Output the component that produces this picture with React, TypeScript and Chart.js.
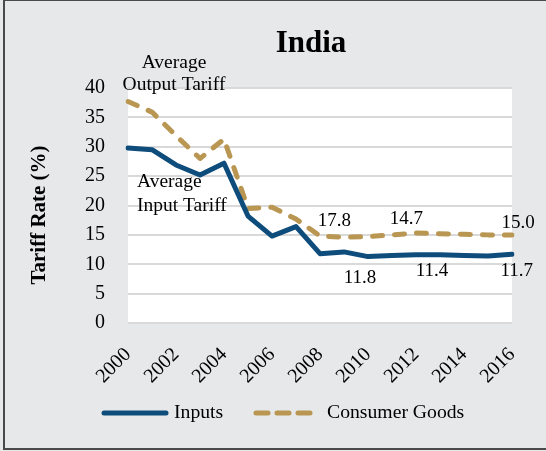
import React, { useEffect, useRef } from "react";
import { Chart, registerables } from "chart.js";

Chart.register(...registerables);

const years = ["2000","2001","2002","2003","2004","2005","2006","2007","2008","2009","2010","2011","2012","2013","2014","2015","2016"];
const inputs = [29.8, 29.5, 26.9, 25.2, 27.2, 18.2, 14.8, 16.4, 11.8, 12.1, 11.3, 11.5, 11.6, 11.6, 11.5, 11.4, 11.7];
const consumerGoods = [37.7, 35.9, 31.9, 28.0, 31.3, 19.5, 19.7, 17.7, 14.8, 14.6, 14.7, 15.0, 15.3, 15.2, 15.1, 15.0, 15.0];
const yTicks = [0, 5, 10, 15, 20, 25, 30, 35, 40];

const seriesNames = ["Inputs", "Consumer Goods"];
const title = "India";
const yTitle = "Tariff Rate (%)";

// value labels: text, x position (year index, fractional), y value for placement
const valueLabelText = ["17.8", "14.7", "15.0", "11.8", "11.4", "11.7"];
const valueLabelX = [8.6, 11.6, 16.25, 9.67, 12.67, 16.2];
const valueLabelY = [17.4, 17.7, 17.0, 7.6, 8.8, 8.8];

const BLUE = "#0e4d7b";
const GOLD = "#b99651";
const BG = "#e7e8ea";
const SERIF = "'Liberation Serif', 'Times New Roman', serif";

const decorPlugin = {
  id: "decor",
  beforeDraw(chart: any) {
    const { ctx, chartArea, width, height } = chart;
    ctx.save();
    ctx.fillStyle = BG;
    ctx.fillRect(0, 0, width, height);
    ctx.strokeStyle = "#4a4a4a";
    ctx.lineWidth = 2;
    ctx.strokeRect(4, 0, width + 10, 449);
    ctx.fillStyle = "#ffffff";
    ctx.fillRect(chartArea.left, chartArea.top, chartArea.right - chartArea.left, chartArea.bottom - chartArea.top);
    ctx.restore();
  },
  afterDraw(chart: any) {
    const { ctx } = chart;
    const xs = chart.scales.x;
    const ys = chart.scales.y;
    ctx.save();
    ctx.fillStyle = "#000";

    // chart title
    ctx.font = `bold 31px ${SERIF}`;
    ctx.textAlign = "center";
    ctx.textBaseline = "middle";
    ctx.fillText(title, 311, 44);

    // y axis title
    ctx.save();
    ctx.translate(39.5, 215);
    ctx.rotate(-Math.PI / 2);
    ctx.font = `bold 21px ${SERIF}`;
    ctx.textAlign = "center";
    ctx.textBaseline = "middle";
    ctx.fillText(yTitle, 0, 0);
    ctx.restore();

    // annotations
    ctx.font = `19.5px ${SERIF}`;
    ctx.textBaseline = "middle";
    ctx.textAlign = "center";
    ctx.fillText("Average", 174, 63);
    ctx.fillText("Output Tariff", 174, 85);
    ctx.textAlign = "left";
    ctx.fillText("Average", 137, 182);
    ctx.fillText("Input Tariff", 137, 206);

    // value labels
    ctx.font = `19px ${SERIF}`;
    ctx.textAlign = "center";
    const step = xs.getPixelForValue(1) - xs.getPixelForValue(0);
    valueLabelText.forEach((t, i) => {
      const px = xs.getPixelForValue(0) + valueLabelX[i] * step;
      const py = ys.getPixelForValue(valueLabelY[i]);
      ctx.fillText(t, px, py);
    });

    // legend
    const ly = 413;
    const ds = chart.data.datasets;
    ctx.lineCap = "round";
    ctx.lineWidth = 5;
    ctx.strokeStyle = ds[0].borderColor;
    ctx.setLineDash([]);
    ctx.beginPath();
    ctx.moveTo(104, ly);
    ctx.lineTo(166, ly);
    ctx.stroke();
    ctx.strokeStyle = ds[1].borderColor;
    ctx.setLineDash([12, 9]);
    ctx.beginPath();
    ctx.moveTo(256, ly);
    ctx.lineTo(312, ly);
    ctx.stroke();
    ctx.setLineDash([]);
    ctx.font = `19.7px ${SERIF}`;
    ctx.textAlign = "left";
    ctx.fillStyle = "#000";
    ctx.fillText(ds[0].label, 174, ly);
    ctx.fillText(ds[1].label, 327, ly);
    ctx.restore();
  },
};

export default function App() {
  const ref = useRef<HTMLCanvasElement>(null);
  useEffect(() => {
    document.body.style.margin = "0";
    const chart = new Chart(ref.current!, {
      type: "line",
      data: {
        labels: years,
        datasets: [
          {
            label: seriesNames[0],
            data: inputs,
            borderColor: BLUE,
            borderWidth: 5,
            pointRadius: 0,
            tension: 0,
            borderCapStyle: "round",
            borderJoinStyle: "round",
            fill: false,
          },
          {
            label: seriesNames[1],
            data: consumerGoods,
            borderColor: GOLD,
            borderWidth: 5,
            pointRadius: 0,
            tension: 0,
            borderDash: [10, 12],
            borderCapStyle: "round",
            borderJoinStyle: "round",
            fill: false,
          },
        ],
      },
      options: {
        responsive: false,
        animation: false,
        devicePixelRatio: 1,
        layout: { padding: { left: 0, right: 34, top: 88, bottom: 68 } },
        plugins: {
          legend: { display: false },
          tooltip: { enabled: false },
          title: { display: false },
        },
        scales: {
          x: {
            type: "category",
            offset: false,
            grid: { display: false },
            border: { display: false },
            ticks: {
              autoSkip: false,
              maxRotation: 45,
              minRotation: 45,
              color: "#000",
              padding: 12,
              font: { family: SERIF, size: 20 },
              callback: (_v: any, i: number) => (i % 2 === 0 ? years[i] : ""),
            },
            afterFit: (s: any) => {
              s.height = 60;
            },
          },
          y: {
            min: 0,
            max: 40,
            afterBuildTicks: (s: any) => {
              s.ticks = yTicks.map((v) => ({ value: v }));
            },
            grid: { color: "#d9d9d9", lineWidth: 2, drawTicks: false },
            border: { display: false },
            ticks: {
              color: "#000",
              padding: 23,
              font: { family: SERIF, size: 20 },
            },
            afterFit: (s: any) => {
              s.width = 128;
            },
          },
        },
      },
      plugins: [decorPlugin],
    });
    return () => chart.destroy();
  }, []);
  return (
    <div style={{ position: "fixed", left: 0, top: 0, width: 546, height: 451, overflow: "hidden" }}>
      <canvas ref={ref} width={546} height={451} style={{ display: "block" }} />
    </div>
  );
}
